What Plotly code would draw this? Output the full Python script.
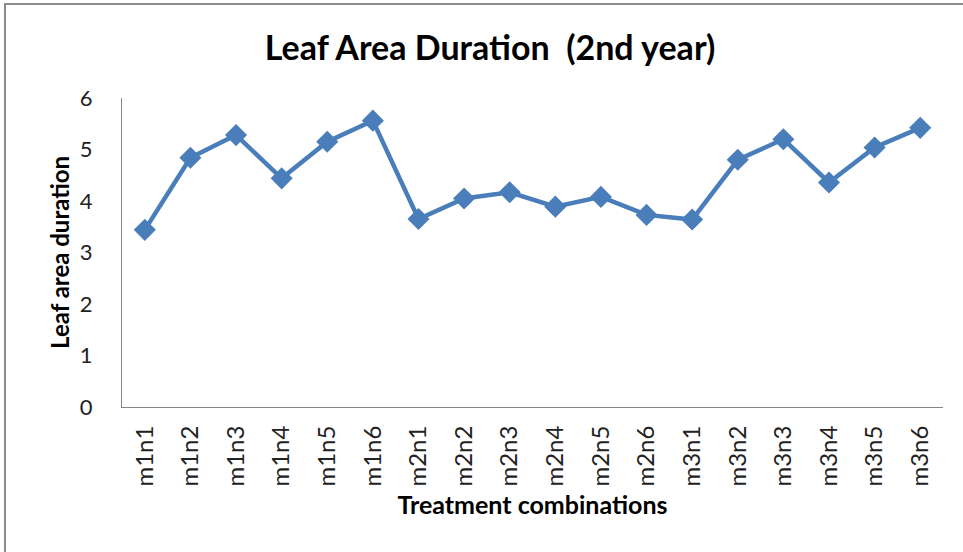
import plotly.graph_objects as go

categories = ["m1n1", "m1n2", "m1n3", "m1n4", "m1n5", "m1n6",
              "m2n1", "m2n2", "m2n3", "m2n4", "m2n5", "m2n6",
              "m3n1", "m3n2", "m3n3", "m3n4", "m3n5", "m3n6"]
lad_values = [3.44, 4.84, 5.28, 4.44, 5.15, 5.56,
              3.65, 4.05, 4.17, 3.89, 4.08, 3.73,
              3.64, 4.80, 5.20, 4.36, 5.04, 5.42]
y_ticks = [0, 1, 2, 3, 4, 5, 6]

FONT = "Lato, 'Liberation Sans', sans-serif"
LINE_COLOR = "#4a7ebb"

fig = go.Figure()
fig.add_trace(go.Scatter(
    x=categories, y=lad_values, mode="lines+markers",
    line=dict(color=LINE_COLOR, width=4.5),
    marker=dict(symbol="diamond", size=17, color=LINE_COLOR),
    showlegend=False, hoverinfo="x+y",
))

W, H = 963, 552
L, R, T = 122, 20, 98
B = H - T - (407 - 98)
pw, ph = W - L - R, H - T - B

def px_x(p):
    return (p - L) / pw

def px_y(p):
    return (H - B - p) / ph

# outer chart frame (left/top edges visible, right/bottom beyond the window)
fig.add_shape(type="rect", xref="paper", yref="paper",
              x0=px_x(5), x1=px_x(975), y0=px_y(4), y1=px_y(570),
              line=dict(color="#8c8c8c", width=2), fillcolor="rgba(0,0,0,0)",
              layer="below")

fig.update_layout(
    width=W, height=H,
    margin=dict(l=L, r=R, t=T, b=B, autoexpand=False),
    paper_bgcolor="white", plot_bgcolor="white",
    font=dict(family=FONT, color="#000000"),
    title=dict(text="<b>Leaf Area Duration  (2nd year)</b>",
               font=dict(size=34, family=FONT, color="#000000"),
               x=490 / W, xanchor="center", xref="container",
               y=1 - 48 / H, yanchor="middle"),
    xaxis=dict(
        type="category", categoryorder="array", categoryarray=categories,
        tickangle=-90, tickfont=dict(size=24, family=FONT, color="#222222"),
        showline=True, linecolor="#868686", linewidth=1,
        showgrid=False, ticks="", ticklabelstandoff=8, automargin=False,
        title=dict(text="<b>Treatment combinations</b>",
                   font=dict(size=25, family=FONT, color="#000000"), standoff=10),
        range=[-0.5, len(categories) - 0.5],
    ),
    yaxis=dict(
        range=[0, 6], tickvals=y_ticks,
        tickfont=dict(size=22, family=FONT, color="#222222"),
        showline=True, linecolor="#868686", linewidth=1,
        showgrid=False, zeroline=False, ticks="", ticklabelstandoff=24,
        automargin=False,
        title=dict(text="<b>Leaf area duration</b>",
                   font=dict(size=24, family=FONT, color="#000000"), standoff=3),
    ),
)

fig.write_html("out.html",
               config={"displayModeBar": False},
               post_script="document.body.style.margin='0';"
                           "document.body.style.overflow='hidden';")
